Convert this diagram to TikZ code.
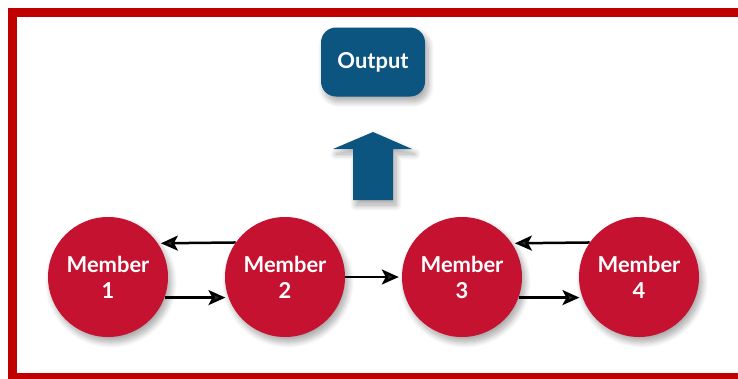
\documentclass[tikz,border=0pt]{standalone}
\usepackage{fontspec}
\newfontfamily\labelfont{Lato}
\usetikzlibrary{arrows.meta, positioning, shadows.blur}
\definecolor{memberred}{HTML}{C41230}
\definecolor{outblue}{HTML}{0C5580}
\definecolor{framered}{HTML}{C00000}

\tikzset{
  softshadow/.style={blur shadow={shadow xshift=3bp, shadow yshift=-5bp,
      shadow blur steps=12, shadow blur radius=6bp, shadow opacity=35}},
  member/.style={circle, fill=memberred, minimum size=120bp, inner sep=0pt,
      text=white, align=center, softshadow,
      font=\labelfont\bfseries\fontsize{22}{26}\selectfont},
  outbox/.style={rectangle, rounded corners=15bp, fill=outblue,
      minimum width=104bp, minimum height=69bp, text=white, softshadow,
      font=\labelfont\bfseries\fontsize{22}{26}\selectfont},
  link/.style={line width=2.5bp,
      -{Stealth[length=17bp, width=15bp, inset=4bp]}, shorten >=3bp}
}

\begin{document}
\begin{tikzpicture}[x=1bp, y=-1bp, node distance=177bp, on grid]
  \clip (0,0) rectangle (738,378);
  \draw[framered, line width=8.5bp] (12.25,12.25) rectangle (760,377.5);

  \node[outbox] (out) at (373,62) {Output};
  % block arrow pointing up to the output
  \fill[outblue, softshadow] (353,200) -- (353,149) -- (333,149) -- (373,132)
       -- (412,149) -- (393,149) -- (393,200) -- cycle;

  \node[member]              (m1) at (108,277) {Member\\1};
  \node[member, right=of m1] (m2)              {Member\\2};
  \node[member, right=of m2] (m3)              {Member\\3};
  \node[member, right=of m3] (m4)              {Member\\4};

  \path[link] (m2.145.5) edge (m1.34.5)
              (m1.-20.5) edge (m2.200.5)
              (m2)       edge (m3)
              (m4.145.5) edge (m3.34.5)
              (m3.-20.5) edge (m4.200.5);
\end{tikzpicture}
\end{document}
